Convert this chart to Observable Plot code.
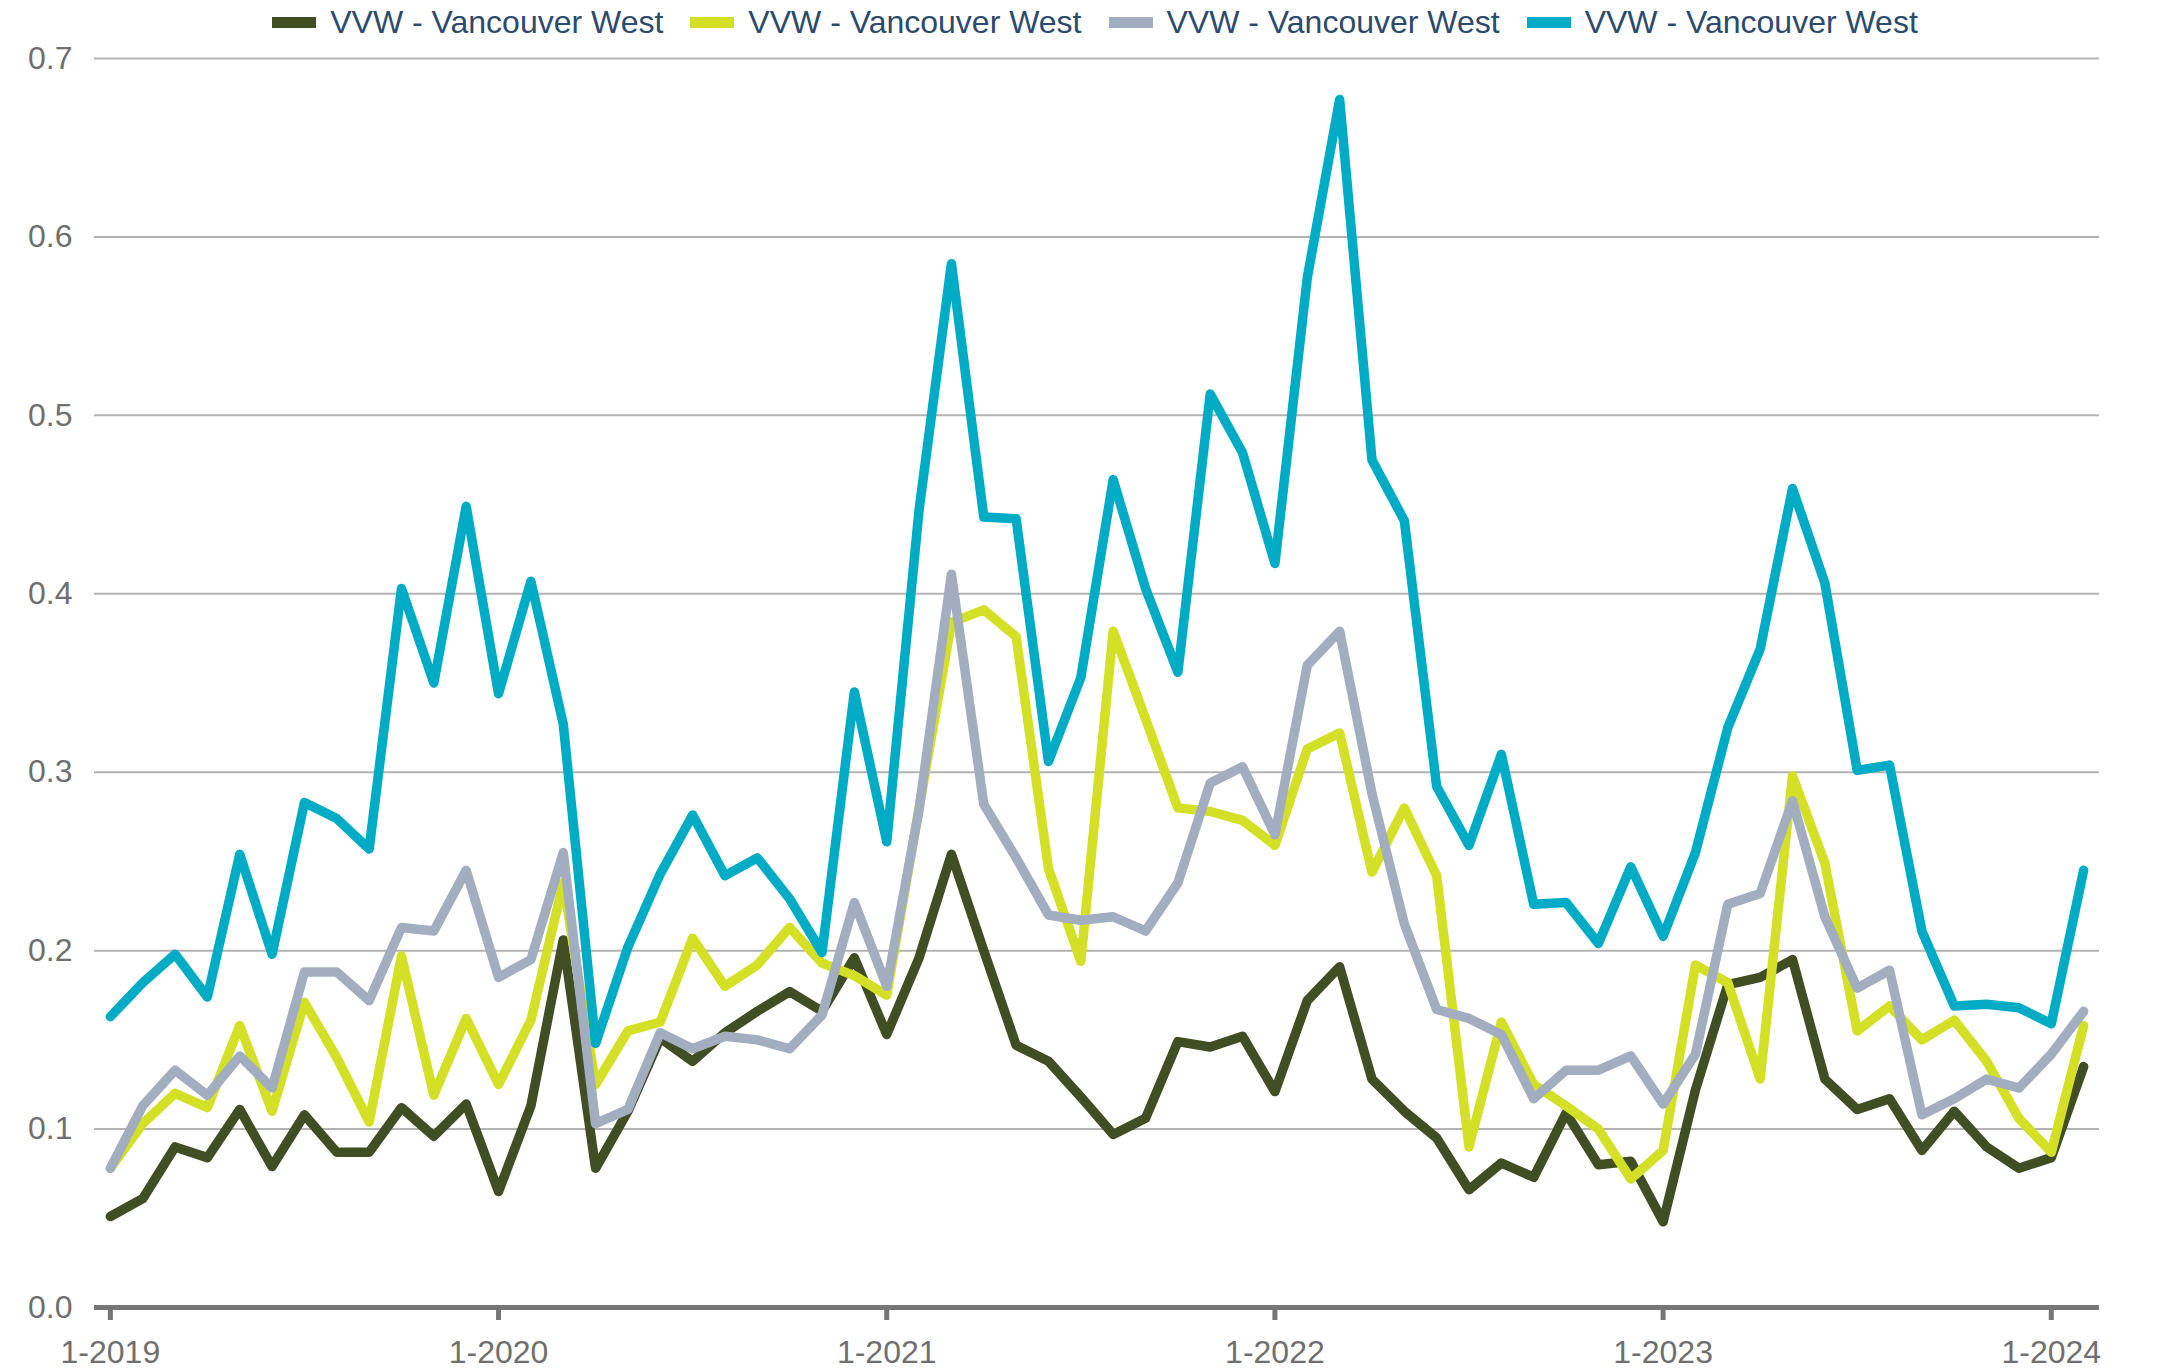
<!DOCTYPE html>
<html>
<head>
<meta charset="utf-8">
<script src="https://cdn.jsdelivr.net/npm/d3@7"></script>
<script src="https://cdn.jsdelivr.net/npm/@observablehq/plot@0.6"></script>
<style>
  body { margin: 0; background: #fff; font-family: "Liberation Sans", Arial, sans-serif; }
  #wrap { position: relative; width: 2165px; height: 1369px; }
  #legend { position: absolute; left: 0; top: 0; height: 44px; display: flex; justify-content: center; align-items: center; gap: 27px; padding-left: 25px; box-sizing: border-box; width: 2165px; z-index: 2; }
  .item { display: flex; align-items: center; gap: 14px; font-size: 32px; color: #2c4a6c; line-height: 1; }
  .sw { width: 44px; height: 11px; }
  #chart svg { overflow: visible; }
</style>
</head>
<body>
<div id="wrap">
<div id="chart"></div>
<div id="legend"></div>
</div>
<script>
// Categories: monthly from 1-2019 to 2-2024
const months = [];
for (let y = 2019; y <= 2024; y++) for (let m = 1; m <= 12; m++) if (months.length < 62) months.push(`${m}-${y}`);
const tickLabels = ["1-2019", "1-2020", "1-2021", "1-2022", "1-2023", "1-2024"];
const yTicks = [0, 0.1, 0.2, 0.3, 0.4, 0.5, 0.6, 0.7];

const seriesNames = ["VVW - Vancouver West", "VVW - Vancouver West", "VVW - Vancouver West", "VVW - Vancouver West"];
const seriesColors = ["#414d23", "#d4e026", "#a2aec0", "#00abc6"];

const darkValues = [0.051,0.061,0.090,0.084,0.111,0.079,0.108,0.087,0.087,0.112,
  0.096,0.114,0.065,0.113,0.206,0.078,0.110,0.151,0.138,0.154,
  0.166,0.177,0.166,0.196,0.153,0.196,0.254,0.200,0.147,0.138,
  0.118,0.097,0.106,0.149,0.146,0.152,0.121,0.172,0.191,0.128,
  0.110,0.095,0.066,0.081,0.073,0.109,0.080,0.082,0.048,0.122,
  0.181,0.185,0.195,0.128,0.111,0.117,0.088,0.110,0.090,0.078,
  0.084,0.135];
const yellowValues = [0.078,0.103,0.120,0.112,0.158,0.110,0.171,0.140,0.104,0.197,
  0.119,0.162,0.125,0.161,0.238,0.125,0.155,0.160,0.207,0.180,
  0.192,0.213,0.193,0.186,0.175,0.280,0.384,0.391,0.376,0.246,
  0.194,0.379,0.330,0.280,0.278,0.273,0.259,0.313,0.322,0.244,
  0.280,0.242,0.090,0.160,0.125,0.113,0.100,0.072,0.088,0.192,
  0.182,0.128,0.298,0.249,0.155,0.169,0.150,0.161,0.138,0.106,
  0.087,0.158];
const grayValues = [0.078,0.113,0.133,0.119,0.141,0.123,0.188,0.188,0.172,0.213,
  0.211,0.245,0.185,0.195,0.255,0.103,0.111,0.154,0.145,0.152,
  0.150,0.145,0.164,0.227,0.180,0.279,0.411,0.282,0.252,0.220,
  0.217,0.219,0.211,0.238,0.294,0.303,0.265,0.360,0.379,0.288,
  0.215,0.167,0.162,0.153,0.117,0.133,0.133,0.141,0.114,0.142,
  0.226,0.232,0.284,0.219,0.179,0.189,0.108,0.117,0.128,0.123,
  0.142,0.166];
const tealValues = [0.163,0.182,0.198,0.174,0.254,0.198,0.283,0.274,0.257,0.403,
  0.350,0.449,0.344,0.407,0.327,0.148,0.202,0.243,0.276,0.242,
  0.252,0.229,0.199,0.345,0.261,0.447,0.585,0.443,0.442,0.306,
  0.353,0.464,0.403,0.356,0.512,0.479,0.417,0.577,0.677,0.475,
  0.441,0.292,0.259,0.310,0.226,0.227,0.204,0.247,0.208,0.255,
  0.325,0.369,0.459,0.406,0.301,0.304,0.211,0.169,0.170,0.168,
  0.159,0.245];

const allValues = [darkValues, yellowValues, grayValues, tealValues];
const tables = allValues.map(vals => vals.map((v, i) => ({month: months[i], value: v})));

// Legend
const legend = document.getElementById("legend");
seriesNames.forEach((name, i) => {
  const item = document.createElement("div");
  item.className = "item";
  const sw = document.createElement("div");
  sw.className = "sw";
  sw.style.background = seriesColors[i];
  const label = document.createElement("span");
  label.textContent = name;
  item.appendChild(sw);
  item.appendChild(label);
  legend.appendChild(item);
});

const chart = Plot.plot({
  width: 2165,
  height: 1369,
  marginTop: 58,
  marginBottom: 62,
  marginLeft: 94,
  marginRight: 66,
  style: { fontFamily: '"Liberation Sans", Arial, sans-serif', fontSize: "32px", background: "white", overflow: "visible" },
  x: { type: "point", domain: months, padding: 0.49, round: false },
  y: { domain: [0, 0.7] },
  marks: [
    Plot.gridY(yTicks.filter(d => d > 0), { stroke: "#b3b3b3", strokeWidth: 2, strokeOpacity: 1 }),
    ...tables.map((t, i) => Plot.line(t, {
      x: "month", y: "value", stroke: seriesColors[i], strokeWidth: 9.5,
      strokeLinejoin: "round", strokeLinecap: "round"
    })),
    Plot.ruleY([0], { stroke: "#767676", strokeWidth: 5 }),
    Plot.axisX({ ticks: tickLabels, tickSize: 13, tickPadding: 20, stroke: "#767676", strokeWidth: 5, fill: "#6f6f6f", fontSize: 32, label: null }),
    Plot.axisY({ ticks: yTicks, tickFormat: d => d.toFixed(1), tickSize: 0, tickPadding: 22, fill: "#6f6f6f", fontSize: 32, label: null })
  ]
});
document.getElementById("chart").appendChild(chart);
</script>
</body>
</html>
